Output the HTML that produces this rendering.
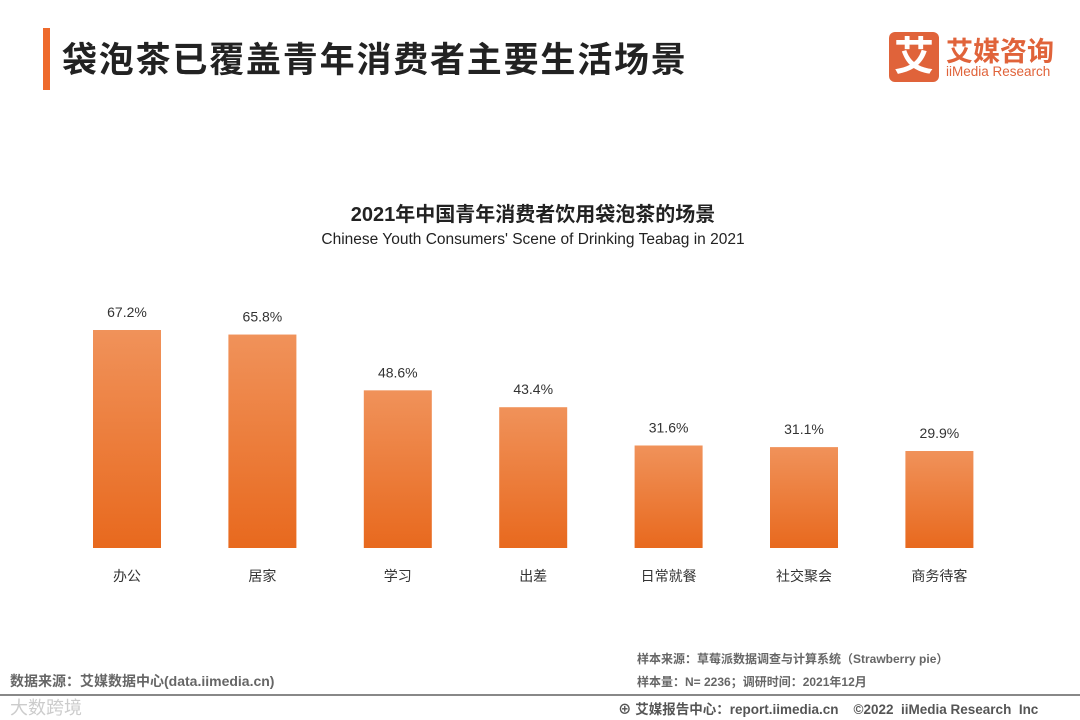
<!DOCTYPE html>
<html><head><meta charset="utf-8"><style>
body{margin:0;width:1080px;height:720px;background:#fff;position:relative;overflow:hidden;font-family:"Liberation Sans","Noto Sans CJK SC",sans-serif;}
.a{position:absolute;}
</style></head><body>
<div class="a" style="left:43px;top:28px;width:7px;height:62px;background:#ee6a2c"></div>
<div class="a" style="left:62px;top:32px;font-size:35px;font-weight:bold;color:#222;letter-spacing:1.8px">袋泡茶已覆盖青年消费者主要生活场景</div>
<div class="a" style="left:889px;top:32px;width:50px;height:50px;background:#e0633a;border-radius:6px;color:#fff;font-size:40px;font-weight:bold;text-align:center;line-height:50px">艾</div>
<div class="a" style="left:946px;top:30px;font-size:27px;font-weight:bold;color:#e0633a;letter-spacing:0px">艾媒咨询</div>
<div class="a" style="left:946px;top:64px;font-size:13.5px;color:#e0633a">iiMedia Research</div>
<div class="a" style="left:0;width:1066px;text-align:center;top:198px;font-size:20px;font-weight:bold;color:#222">2021年中国青年消费者饮用袋泡茶的场景</div>
<div class="a" style="left:0;width:1066px;text-align:center;top:231px;font-size:15.5px;color:#222">Chinese Youth Consumers' Scene of Drinking Teabag in 2021</div>
<svg class="a" style="left:0;top:0" width="1080" height="720">
<defs><linearGradient id="g" x1="0" y1="0" x2="0" y2="1"><stop offset="0" stop-color="#f0925a"/><stop offset="1" stop-color="#e8691e"/></linearGradient></defs>
<g id="bars"></g>
</svg>
<div class="a" style="left:10px;top:671px;font-size:14px;color:#666;font-weight:bold">数据来源：艾媒数据中心(data.iimedia.cn)</div>
<div class="a" style="left:637px;top:650px;font-size:12px;color:#666;font-weight:bold">样本来源：草莓派数据调查与计算系统（Strawberry pie）</div>
<div class="a" style="left:637px;top:673px;font-size:12px;color:#666;font-weight:bold">样本量：N= 2236；调研时间：2021年12月</div>
<div class="a" style="left:0;top:694px;width:1080px;height:2px;background:#888"></div>
<div class="a" style="left:10px;top:694px;font-size:18px;color:#ccc">大数跨境</div>
<div class="a" style="left:618px;top:698px;font-size:13.5px;color:#555;font-weight:bold">⊕ 艾媒报告中心：report.iimedia.cn &nbsp;&nbsp;&nbsp;©2022 &nbsp;iiMedia Research &nbsp;Inc</div>
<script>
const categories=["办公","居家","学习","出差","日常就餐","社交聚会","商务待客"];
const values=[67.2,65.8,48.6,43.4,31.6,31.1,29.9];
const base=548,scale=3.244,x0=127,step=135.4,bw=68;
const ns="http://www.w3.org/2000/svg",g=document.getElementById("bars");
function xs(i){return x0+i*step;}function ys(v){return base-v*scale;}
categories.forEach((c,i)=>{
const r=document.createElementNS(ns,"rect");


r.setAttribute("x",xs(i)-bw/2);r.setAttribute("y",ys(values[i]));r.setAttribute("width",bw);r.setAttribute("height",base-ys(values[i]));r.setAttribute("fill","url(#g)");g.appendChild(r);
const t=document.createElementNS(ns,"text");


t.setAttribute("x",xs(i));t.setAttribute("y",ys(values[i])-13);t.setAttribute("text-anchor","middle");t.setAttribute("font-size","14");t.setAttribute("fill","#333");t.textContent=values[i].toFixed(1)+"%";g.appendChild(t);
const l=document.createElementNS(ns,"text");


l.setAttribute("x",xs(i));l.setAttribute("y",581);l.setAttribute("text-anchor","middle");l.setAttribute("font-size","14");l.setAttribute("fill","#333");l.textContent=c;g.appendChild(l);
});
</script>
</body></html>
